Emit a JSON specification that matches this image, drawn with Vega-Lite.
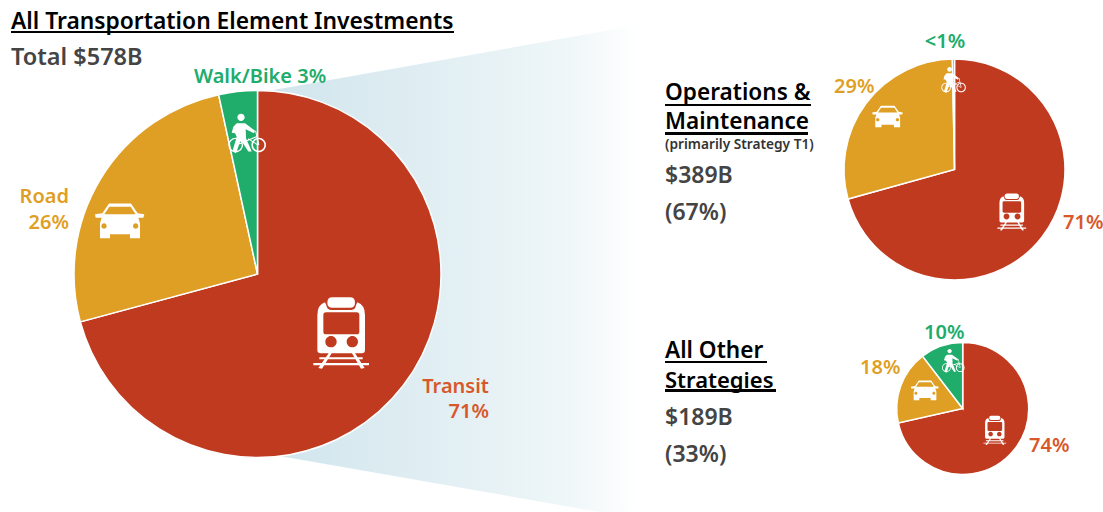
{"$schema":"https://vega.github.io/schema/vega-lite/v6.json","width":1103,"height":512,"padding":0,"autosize":{"type":"fit","contains":"padding"},"background":"#ffffff","config":{"view":{"stroke":null},"text":{"font":"Noto Sans","fontWeight":600}},
"datasets":{"pies":[{"pie":"All","mode":"Transit","share":70.8,"rank":1},{"pie":"All","mode":"Road","share":25.8,"rank":2},{"pie":"All","mode":"Walk/Bike","share":3.4,"rank":3},{"pie":"OM","mode":"Transit","share":70.7,"rank":1},{"pie":"OM","mode":"Road","share":29,"rank":2},{"pie":"OM","mode":"Walk/Bike","share":0.3,"rank":3},{"pie":"Other","mode":"Transit","share":71.5,"rank":1},{"pie":"Other","mode":"Road","share":18.1,"rank":2},{"pie":"Other","mode":"Walk/Bike","share":10.4,"rank":3}],
"wedge":[{"px":257,"top":93,"bottom":452},{"px":640,"top":25,"bottom":519}]},
"data":{"name":"pies"},
"layer":[
{"data":{"name":"wedge"},"mark":{"type":"area","clip":true,"opacity":1,"color":{"gradient":"linear","x1":0,"y1":0,"x2":1,"y2":0,"stops":[{"offset":0,"color":"#cfe4ec"},{"offset":0.8,"color":"#eef6f8"},{"offset":1,"color":"#ffffff"}]}},"encoding":{"x":{"field":"px","type":"quantitative","axis":null,"scale":{"domain":[0,1103]}},"y":{"field":"top","type":"quantitative","axis":null,"scale":{"domain":[512,0]}},"y2":{"field":"bottom"}}},
{"transform":[{"filter":"datum.pie==='All'"}],"mark":{"type":"arc","x":257.5,"y":274,"outerRadius":183.5,"stroke":"#ffffff","strokeWidth":1.5},"encoding":{"theta":{"field":"share","type":"quantitative","stack":true,"scale":{"domain":[0,100]}},"order":{"field":"rank"},"color":{"field":"mode","legend":null,"scale":{"domain":["Transit","Road","Walk/Bike"],"range":["#c03a20","#df9f24","#20ac6b"]}}}},
{"transform":[{"filter":"datum.pie==='OM'"}],"mark":{"type":"arc","x":954.5,"y":169.5,"outerRadius":110.5,"stroke":"#ffffff","strokeWidth":1.5},"encoding":{"theta":{"field":"share","type":"quantitative","stack":true,"scale":{"domain":[0,100]}},"order":{"field":"rank"},"color":{"field":"mode","legend":null}}},
{"transform":[{"filter":"datum.pie==='Other'"}],"mark":{"type":"arc","x":962.7,"y":408.5,"outerRadius":66,"stroke":"#ffffff","strokeWidth":1.5},"encoding":{"theta":{"field":"share","type":"quantitative","stack":true,"scale":{"domain":[0,100]}},"order":{"field":"rank"},"color":{"field":"mode","legend":null}}},
{"data":{"values":[{"icon":"train"}]},"mark":{"type":"point","filled":true,"opacity":1,"color":"#ffffff","strokeWidth":0,"x":341,"y":332,"size":0.444,"shape":"M-71,-51 Q-71,-81 -48,-89 L-44,-80 Q-42,-66 -30,-66 L31,-66 Q43,-66 45,-80 L49,-89 Q72,-81 72,-51 L72,54 Q72,64 62,64 L-61,64 Q-71,64 -71,54 Z M-45,-59 Q-53,-59 -53,-51 L-53,-1 Q-53,7 -45,7 L47,7 Q55,7 55,-1 L55,-51 Q55,-59 47,-59 Z M-47,29 A17,17 0 1 0 -13,29 A17,17 0 1 0 -47,29 Z M17,29 A17,17 0 1 0 51,29 A17,17 0 1 0 17,29 Z M-26,-104 L27,-104 Q42,-104 42,-88 Q42,-73 27,-73 L-26,-73 Q-41,-73 -41,-88 Q-41,-104 -26,-104 Z M-65,76 L65,76 L65,82 L-65,82 Z M-83,93 L84,93 L84,100 L-83,100 Z M-37,64 L-28,64 L-57,110 L-68,108 Z M33,64 L42,64 L71,108 L60,110 Z"}},
{"data":{"values":[{"icon":"train"}]},"mark":{"type":"point","filled":true,"opacity":1,"color":"#ffffff","strokeWidth":0,"x":1011.7,"y":211.5,"size":0.119,"shape":"M-71,-51 Q-71,-81 -48,-89 L-44,-80 Q-42,-66 -30,-66 L31,-66 Q43,-66 45,-80 L49,-89 Q72,-81 72,-51 L72,54 Q72,64 62,64 L-61,64 Q-71,64 -71,54 Z M-45,-59 Q-53,-59 -53,-51 L-53,-1 Q-53,7 -45,7 L47,7 Q55,7 55,-1 L55,-51 Q55,-59 47,-59 Z M-47,29 A17,17 0 1 0 -13,29 A17,17 0 1 0 -47,29 Z M17,29 A17,17 0 1 0 51,29 A17,17 0 1 0 17,29 Z M-26,-104 L27,-104 Q42,-104 42,-88 Q42,-73 27,-73 L-26,-73 Q-41,-73 -41,-88 Q-41,-104 -26,-104 Z M-65,76 L65,76 L65,82 L-65,82 Z M-83,93 L84,93 L84,100 L-83,100 Z M-37,64 L-28,64 L-57,110 L-68,108 Z M33,64 L42,64 L71,108 L60,110 Z"}},
{"data":{"values":[{"icon":"train"}]},"mark":{"type":"point","filled":true,"opacity":1,"color":"#ffffff","strokeWidth":0,"x":994.7,"y":430,"size":0.0738,"shape":"M-71,-51 Q-71,-81 -48,-89 L-44,-80 Q-42,-66 -30,-66 L31,-66 Q43,-66 45,-80 L49,-89 Q72,-81 72,-51 L72,54 Q72,64 62,64 L-61,64 Q-71,64 -71,54 Z M-45,-59 Q-53,-59 -53,-51 L-53,-1 Q-53,7 -45,7 L47,7 Q55,7 55,-1 L55,-51 Q55,-59 47,-59 Z M-47,29 A17,17 0 1 0 -13,29 A17,17 0 1 0 -47,29 Z M17,29 A17,17 0 1 0 51,29 A17,17 0 1 0 17,29 Z M-26,-104 L27,-104 Q42,-104 42,-88 Q42,-73 27,-73 L-26,-73 Q-41,-73 -41,-88 Q-41,-104 -26,-104 Z M-65,76 L65,76 L65,82 L-65,82 Z M-83,93 L84,93 L84,100 L-83,100 Z M-37,64 L-28,64 L-57,110 L-68,108 Z M33,64 L42,64 L71,108 L60,110 Z"}},
{"data":{"values":[{"icon":"car"}]},"mark":{"type":"point","filled":true,"opacity":1,"color":"#ffffff","strokeWidth":0,"x":120,"y":221.7,"size":0.444,"shape":"M-33,-55 L33,-55 L53,-25 L73,-22 L70,-12 L55,-12 L60,5 L60,50 L30,50 L30,38 L-30,38 L-30,50 L-60,50 L-60,5 L-55,-12 L-73,-12 L-75,-22 L-53,-25 Z M-32,-45 L-47,-22 L47,-22 L32,-45 Z M-56,13 A8,8 0 1 0 -40,13 A8,8 0 1 0 -56,13 Z M39,13 A8,8 0 1 0 55,13 A8,8 0 1 0 39,13 Z"}},
{"data":{"values":[{"icon":"car"}]},"mark":{"type":"point","filled":true,"opacity":1,"color":"#ffffff","strokeWidth":0,"x":887.7,"y":117,"size":0.171,"shape":"M-33,-55 L33,-55 L53,-25 L73,-22 L70,-12 L55,-12 L60,5 L60,50 L30,50 L30,38 L-30,38 L-30,50 L-60,50 L-60,5 L-55,-12 L-73,-12 L-75,-22 L-53,-25 Z M-32,-45 L-47,-22 L47,-22 L32,-45 Z M-56,13 A8,8 0 1 0 -40,13 A8,8 0 1 0 -56,13 Z M39,13 A8,8 0 1 0 55,13 A8,8 0 1 0 39,13 Z"}},
{"data":{"values":[{"icon":"car"}]},"mark":{"type":"point","filled":true,"opacity":1,"color":"#ffffff","strokeWidth":0,"x":925,"y":390.8,"size":0.143,"shape":"M-33,-55 L33,-55 L53,-25 L73,-22 L70,-12 L55,-12 L60,5 L60,50 L30,50 L30,38 L-30,38 L-30,50 L-60,50 L-60,5 L-55,-12 L-73,-12 L-75,-22 L-53,-25 Z M-32,-45 L-47,-22 L47,-22 L32,-45 Z M-56,13 A8,8 0 1 0 -40,13 A8,8 0 1 0 -56,13 Z M39,13 A8,8 0 1 0 55,13 A8,8 0 1 0 39,13 Z"}},
{"data":{"values":[{"icon":"walkbike"}]},"mark":{"type":"point","filled":true,"opacity":1,"color":"#ffffff","strokeWidth":0,"x":246.7,"y":133.3,"size":0.444,"shape":"M-28,-48 A11,11 0 1 1 -6,-48 A11,11 0 1 1 -28,-48 Z M-30,-30 L-5,-30 L25,-8 L22,0 L-3,-12 L-2,15 L15,55 L5,55 L-18,20 L-32,60 L-43,55 L-30,10 L-35,0 L-45,-2 L-40,-20 Z M14,35 A22,22 0 1 1 58,35 A22,22 0 1 1 14,35 Z M19,35 A17,17 0 1 0 53,35 A17,17 0 1 0 19,35 Z M-55,35 A22,22 0 1 1 -11,35 A22,22 0 1 1 -55,35 Z M-51,35 A18,18 0 1 0 -15,35 A18,18 0 1 0 -51,35 Z M25,-8 L28,-8 L38,34 L35,36 Z M-33,34 L30,8 L31,11 L-32,37 Z M5,15 L35,34 L34,37 L4,18 Z"}},
{"data":{"values":[{"icon":"walkbike"}]},"mark":{"type":"point","filled":true,"opacity":1,"color":"#ffffff","strokeWidth":0,"x":953.3,"y":79.8,"size":0.19,"shape":"M-28,-48 A11,11 0 1 1 -6,-48 A11,11 0 1 1 -28,-48 Z M-30,-30 L-5,-30 L25,-8 L22,0 L-3,-12 L-2,15 L15,55 L5,55 L-18,20 L-32,60 L-43,55 L-30,10 L-35,0 L-45,-2 L-40,-20 Z M14,35 A22,22 0 1 1 58,35 A22,22 0 1 1 14,35 Z M19,35 A17,17 0 1 0 53,35 A17,17 0 1 0 19,35 Z M-55,35 A22,22 0 1 1 -11,35 A22,22 0 1 1 -55,35 Z M-51,35 A18,18 0 1 0 -15,35 A18,18 0 1 0 -51,35 Z M25,-8 L28,-8 L38,34 L35,36 Z M-33,34 L30,8 L31,11 L-32,37 Z M5,15 L35,34 L34,37 L4,18 Z"}},
{"data":{"values":[{"icon":"walkbike"}]},"mark":{"type":"point","filled":true,"opacity":1,"color":"#ffffff","strokeWidth":0,"x":953,"y":360.7,"size":0.16,"shape":"M-28,-48 A11,11 0 1 1 -6,-48 A11,11 0 1 1 -28,-48 Z M-30,-30 L-5,-30 L25,-8 L22,0 L-3,-12 L-2,15 L15,55 L5,55 L-18,20 L-32,60 L-43,55 L-30,10 L-35,0 L-45,-2 L-40,-20 Z M14,35 A22,22 0 1 1 58,35 A22,22 0 1 1 14,35 Z M19,35 A17,17 0 1 0 53,35 A17,17 0 1 0 19,35 Z M-55,35 A22,22 0 1 1 -11,35 A22,22 0 1 1 -55,35 Z M-51,35 A18,18 0 1 0 -15,35 A18,18 0 1 0 -51,35 Z M25,-8 L28,-8 L38,34 L35,36 Z M-33,34 L30,8 L31,11 L-32,37 Z M5,15 L35,34 L34,37 L4,18 Z"}},
{"mark":{"type":"rule","color":"#000000","strokeWidth":2},"encoding":{"x":{"value":11},"x2":{"value":454},"y":{"value":32}}},
{"mark":{"type":"rule","color":"#000000","strokeWidth":2},"encoding":{"x":{"value":665},"x2":{"value":811},"y":{"value":105}}},
{"mark":{"type":"rule","color":"#000000","strokeWidth":2},"encoding":{"x":{"value":665},"x2":{"value":808},"y":{"value":133.5}}},
{"mark":{"type":"rule","color":"#000000","strokeWidth":2},"encoding":{"x":{"value":665},"x2":{"value":767},"y":{"value":362}}},
{"mark":{"type":"rule","color":"#000000","strokeWidth":2},"encoding":{"x":{"value":665},"x2":{"value":776},"y":{"value":390.5}}},
{"data":{"values":[{"t":"All Transportation Element Investments"}]},"mark":{"type":"text","align":"left","baseline":"alphabetic","x":11,"y":28.5,"fontSize":22.8,"color":"#000000"},"encoding":{"text":{"field":"t"}}},
{"data":{"values":[{"t":"Total $578B"}]},"mark":{"type":"text","align":"left","baseline":"alphabetic","x":11,"y":65,"fontSize":23.5,"color":"#444444"},"encoding":{"text":{"field":"t"}}},
{"data":{"values":[{"t":"Walk/Bike 3%"}]},"mark":{"type":"text","align":"left","baseline":"alphabetic","x":194,"y":83,"fontSize":20,"color":"#20ac6b"},"encoding":{"text":{"field":"t"}}},
{"data":{"values":[{"t":"Road"}]},"mark":{"type":"text","align":"right","baseline":"alphabetic","x":69,"y":203,"fontSize":20,"color":"#df9f24"},"encoding":{"text":{"field":"t"}}},
{"data":{"values":[{"t":"26%"}]},"mark":{"type":"text","align":"right","baseline":"alphabetic","x":69,"y":229,"fontSize":20,"color":"#df9f24"},"encoding":{"text":{"field":"t"}}},
{"data":{"values":[{"t":"Transit"}]},"mark":{"type":"text","align":"right","baseline":"alphabetic","x":489,"y":393,"fontSize":20,"color":"#d8582a"},"encoding":{"text":{"field":"t"}}},
{"data":{"values":[{"t":"71%"}]},"mark":{"type":"text","align":"right","baseline":"alphabetic","x":489,"y":418,"fontSize":20,"color":"#d8582a"},"encoding":{"text":{"field":"t"}}},
{"data":{"values":[{"t":"Operations &"}]},"mark":{"type":"text","align":"left","baseline":"alphabetic","x":665,"y":100,"fontSize":22.6,"color":"#000000"},"encoding":{"text":{"field":"t"}}},
{"data":{"values":[{"t":"Maintenance"}]},"mark":{"type":"text","align":"left","baseline":"alphabetic","x":665,"y":129.3,"fontSize":22.6,"color":"#000000"},"encoding":{"text":{"field":"t"}}},
{"data":{"values":[{"t":"(primarily Strategy T1)"}]},"mark":{"type":"text","align":"left","baseline":"alphabetic","x":665,"y":149,"fontSize":13.7,"color":"#333333"},"encoding":{"text":{"field":"t"}}},
{"data":{"values":[{"t":"$389B"}]},"mark":{"type":"text","align":"left","baseline":"alphabetic","x":665,"y":183,"fontSize":23,"color":"#444444"},"encoding":{"text":{"field":"t"}}},
{"data":{"values":[{"t":"(67%)"}]},"mark":{"type":"text","align":"left","baseline":"alphabetic","x":665,"y":220,"fontSize":23,"color":"#444444"},"encoding":{"text":{"field":"t"}}},
{"data":{"values":[{"t":"<1%"}]},"mark":{"type":"text","align":"center","baseline":"alphabetic","x":945,"y":48,"fontSize":20,"color":"#20ac6b"},"encoding":{"text":{"field":"t"}}},
{"data":{"values":[{"t":"29%"}]},"mark":{"type":"text","align":"left","baseline":"alphabetic","x":834,"y":93.3,"fontSize":20,"color":"#df9f24"},"encoding":{"text":{"field":"t"}}},
{"data":{"values":[{"t":"71%"}]},"mark":{"type":"text","align":"left","baseline":"alphabetic","x":1063,"y":229,"fontSize":20,"color":"#d8582a"},"encoding":{"text":{"field":"t"}}},
{"data":{"values":[{"t":"All Other"}]},"mark":{"type":"text","align":"left","baseline":"alphabetic","x":665,"y":358,"fontSize":22.6,"color":"#000000"},"encoding":{"text":{"field":"t"}}},
{"data":{"values":[{"t":"Strategies"}]},"mark":{"type":"text","align":"left","baseline":"alphabetic","x":665,"y":387.5,"fontSize":22,"color":"#000000"},"encoding":{"text":{"field":"t"}}},
{"data":{"values":[{"t":"$189B"}]},"mark":{"type":"text","align":"left","baseline":"alphabetic","x":665,"y":425,"fontSize":23,"color":"#444444"},"encoding":{"text":{"field":"t"}}},
{"data":{"values":[{"t":"(33%)"}]},"mark":{"type":"text","align":"left","baseline":"alphabetic","x":665,"y":462,"fontSize":23,"color":"#444444"},"encoding":{"text":{"field":"t"}}},
{"data":{"values":[{"t":"10%"}]},"mark":{"type":"text","align":"left","baseline":"alphabetic","x":924,"y":339.3,"fontSize":20,"color":"#20ac6b"},"encoding":{"text":{"field":"t"}}},
{"data":{"values":[{"t":"18%"}]},"mark":{"type":"text","align":"left","baseline":"alphabetic","x":860,"y":374.3,"fontSize":20,"color":"#df9f24"},"encoding":{"text":{"field":"t"}}},
{"data":{"values":[{"t":"74%"}]},"mark":{"type":"text","align":"left","baseline":"alphabetic","x":1029,"y":451.7,"fontSize":20,"color":"#d8582a"},"encoding":{"text":{"field":"t"}}}
]}
